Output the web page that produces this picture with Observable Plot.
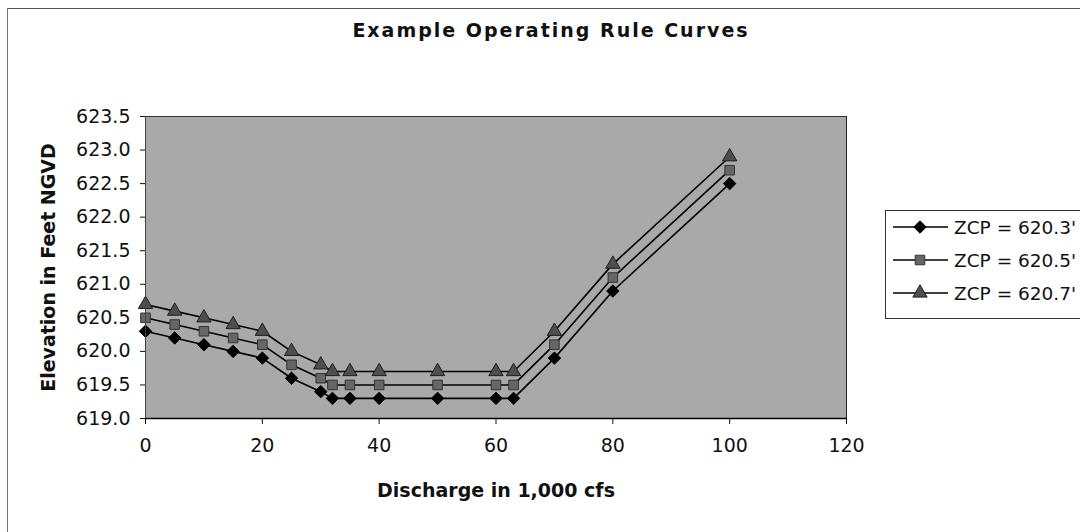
<!DOCTYPE html>
<html>
<head>
<meta charset="utf-8">
<script src="https://cdn.jsdelivr.net/npm/d3@7"></script>
<script src="https://cdn.jsdelivr.net/npm/@observablehq/plot@0.6"></script>
<style>
  html, body { margin: 0; padding: 0; background: #fff; }
  #wrap { position: relative; width: 1080px; height: 532px; overflow: hidden; font-family: "DejaVu Sans", sans-serif; }
  #topline { position: absolute; left: 7px; top: 8px; width: 1073px; height: 0; border-top: 1px solid #555; }
  #leftline { position: absolute; left: 7px; top: 8px; width: 0; height: 524px; border-left: 1px solid #777; }
  #title { position: absolute; left: 0; width: 1102px; top: 19px; text-align: center; font-weight: bold; font-size: 19px; letter-spacing: 2px; color: #111; }
  #chart { position: absolute; left: 0; top: 0; }
  #chart svg [aria-label="y-axis label"] text, #chart svg [aria-label="x-axis label"] text { font-weight: bold; }
  #legend { position: absolute; left: 885px; top: 210px; width: 220px; height: 107px; border: 1px solid #333; background: #fff; }
  .item { position: absolute; left: 6px; height: 24px; display: flex; align-items: center; font-size: 18.5px; color: #111; }
  .item svg { margin-right: 5px; }
</style>
</head>
<body>
<div id="wrap">
  <div id="topline"></div>
  <div id="leftline"></div>
  <div id="title">Example Operating Rule Curves</div>
  <div id="chart"></div>
  <div id="legend"></div>
</div>
<script>
// Data
const discharge = [0, 5, 10, 15, 20, 25, 30, 32, 35, 40, 50, 60, 63, 70, 80, 100];
const zcp6203 = [620.3, 620.2, 620.1, 620.0, 619.9, 619.6, 619.4, 619.3, 619.3, 619.3, 619.3, 619.3, 619.3, 619.9, 620.9, 622.5];
const zcp6205 = [620.5, 620.4, 620.3, 620.2, 620.1, 619.8, 619.6, 619.5, 619.5, 619.5, 619.5, 619.5, 619.5, 620.1, 621.1, 622.7];
const zcp6207 = [620.7, 620.6, 620.5, 620.4, 620.3, 620.0, 619.8, 619.7, 619.7, 619.7, 619.7, 619.7, 619.7, 620.3, 621.3, 622.9];
const seriesNames = ["ZCP = 620.3'", "ZCP = 620.5'", "ZCP = 620.7'"];
const xTicks = [0, 20, 40, 60, 80, 100, 120];
const yTicks = [619.0, 619.5, 620.0, 620.5, 621.0, 621.5, 622.0, 622.5, 623.0, 623.5];

const seriesValues = [zcp6203, zcp6205, zcp6207];
const rows = [];
seriesValues.forEach((vals, i) => {
  vals.forEach((v, j) => rows.push({series: seriesNames[i], x: discharge[j], y: v}));
});

const symbolStyles = [
  {symbol: "diamond2", r: 5.6, fill: "#000", stroke: "#000"},
  {symbol: "square", r: 5.4, fill: "#666", stroke: "#333"},
  {symbol: "triangle", r: 5.3, fill: "#4e4e4e", stroke: "#1e1e1e"}
];

const W = 1080, H = 532;
const plot = Plot.plot({
  width: W,
  height: H,
  marginLeft: 145,
  marginRight: 234,
  marginTop: 116,
  marginBottom: 114,
  style: {fontFamily: "DejaVu Sans", fontSize: "19px", color: "#111", background: "transparent"},
  x: {domain: [0, 120]},
  y: {domain: [619, 623.5]},
  marks: [
    Plot.frame({fill: "#a9a9a9", stroke: "none"}),
    Plot.axisX({ticks: xTicks, tickSize: 6, tickPadding: 14, tickFormat: d3.format("d"),
      label: "Discharge in 1,000 cfs", labelAnchor: "center", labelArrow: "none", labelOffset: 78, fontSize: 19}),
    Plot.axisY({ticks: yTicks, tickSize: 5, tickPadding: 10, tickFormat: d3.format(".1f"),
      label: "Elevation in Feet NGVD", labelAnchor: "center", labelArrow: "none", labelOffset: 104, fontSize: 19}),
    Plot.line(rows, {x: "x", y: "y", z: "series", stroke: "#000", strokeWidth: 1.6}),
    ...seriesNames.map((name, i) =>
      Plot.dot(rows.filter(d => d.series === name), {x: "x", y: "y", ...symbolStyles[i], strokeWidth: 1})
    ),
    Plot.ruleY([619], {stroke: "#000", strokeWidth: 1.5}),
    Plot.ruleY([623.5], {stroke: "#333", strokeWidth: 1}),
    Plot.ruleX([0], {stroke: "#444", strokeWidth: 1}),
    Plot.ruleX([120], {stroke: "#222", strokeWidth: 1})
  ]
});
document.getElementById("chart").appendChild(plot);

// Legend (HTML)
const legend = document.getElementById("legend");
const symPaths = {
  diamond2: d3.symbol(d3.symbolDiamond2, Math.PI * 5.6 * 5.6)(),
  square: d3.symbol(d3.symbolSquare, Math.PI * 5.4 * 5.4)(),
  triangle: d3.symbol(d3.symbolTriangle, Math.PI * 5.3 * 5.3)()
};
const itemTops = [4, 37, 70];
seriesNames.forEach((name, i) => {
  const s = symbolStyles[i];
  const item = document.createElement("div");
  item.className = "item";
  item.style.top = itemTops[i] + "px";
  item.innerHTML = `<svg width="57" height="20"><line x1="1" x2="56" y1="10" y2="10" stroke="#000" stroke-width="1.3"></line>` +
    `<path transform="translate(28,10)" d="${symPaths[s.symbol]}" fill="${s.fill}" stroke="${s.stroke}"></path></svg>` +
    `<span>${name}</span>`;
  legend.appendChild(item);
});
</script>
</body>
</html>
